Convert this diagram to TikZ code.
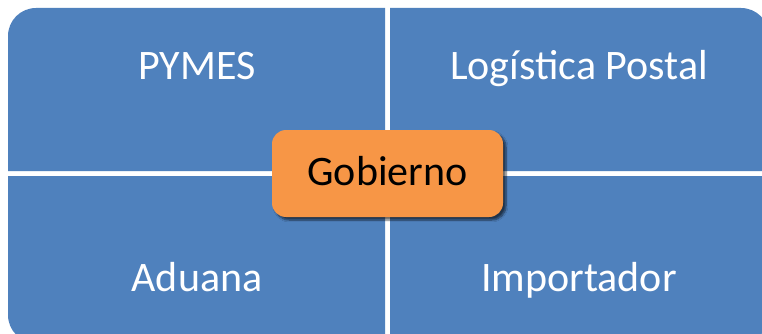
\documentclass[tikz,border=0pt]{standalone}
\usepackage{fontspec}
\setmainfont{Carlito}
\usetikzlibrary{shadows.blur}
\definecolor{qblue}{RGB}{79,129,189}
\definecolor{qorange}{RGB}{247,150,70}
\tikzset{
  quad/.style={fill=qblue, draw=none},
  qlabel/.style={anchor=base, text=white, font=\fontsize{42}{50}\selectfont, inner sep=0pt},
  centerbox/.style={fill=qorange, draw=none, rounded corners=14pt,
    blur shadow={shadow xshift=3pt, shadow yshift=-3pt, shadow opacity=60, shadow blur steps=6}},
}
\begin{document}
\begin{tikzpicture}[x=1pt,y=-1pt]
\useasboundingbox (0,0) rectangle (762,334);
\clip (0,0) rectangle (762,334);
\fill[white] (0,0) rectangle (762,334);
% quadrants
\path[quad] (8,171) -- (8,36) arc[start angle=180,end angle=270,radius=28] -- (385,8) -- (385,171) -- cycle;
\path[quad] (390,171) -- (390,8) -- (741,8) arc[start angle=270,end angle=360,radius=28] -- (769,171) -- cycle;
\path[quad] (8,176) -- (385,176) -- (385,343) -- (36,343) arc[start angle=90,end angle=180,radius=28] -- cycle;
\path[quad] (390,176) -- (769,176) -- (769,315) arc[start angle=0,end angle=90,radius=28] -- (390,343) -- cycle;
% labels
\node[qlabel] (pymes) at (197,80) {PYMES};
\node[qlabel] (logistica) at (579,80) {Logística Postal};
\node[qlabel] (aduana) at (197,291) {Aduana};
\node[qlabel] (importador) at (579,291) {Importador};
% center
\node[centerbox, minimum width=231pt, minimum height=87pt, inner sep=0pt] (gobierno) at (387.5,173.5) {};
\node[anchor=base, font=\fontsize{42}{50}\selectfont, inner sep=0pt, text=black] (gobtext) at (387.5,185) {Gobierno};
\end{tikzpicture}
\end{document}
